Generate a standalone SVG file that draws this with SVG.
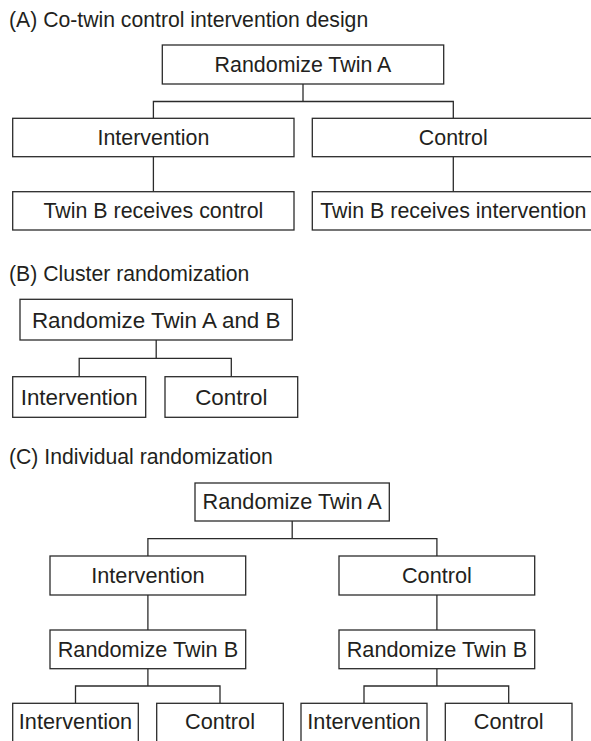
<svg xmlns="http://www.w3.org/2000/svg" width="591" height="741" viewBox="0 0 591 741">
<style>
  .box { fill: #ffffff; stroke: #2b2b2b; stroke-width: 1.3; }
  .conn { fill: none; stroke: #2b2b2b; stroke-width: 1.3; }
  text { font-family: "Liberation Sans", Arial, sans-serif; fill: #231f20; }
  .title { font-size: 21.2px; }
  .la { font-size: 21.4px; text-anchor: middle; }
  .lb { font-size: 22.4px; text-anchor: middle; }
  .lc { font-size: 21.7px; text-anchor: middle; }
</style>
<rect x="0" y="0" width="591" height="741" fill="#ffffff"/>

<!-- Section titles -->
<text class="title" x="9" y="26.5">(A) Co-twin control intervention design</text>
<text class="title" x="9" y="280.5">(B) Cluster randomization</text>
<text class="title" x="9" y="464">(C) Individual randomization</text>

<!-- Connectors -->
<g id="connectors">
  <!-- A -->
  <path class="conn" d="M303 84 V101.5"/>
  <path class="conn" d="M153.4 118.3 V101.5 H453.3 V118.3"/>
  <path class="conn" d="M153.4 156.7 V191.7"/>
  <path class="conn" d="M453.3 156.7 V191.7"/>
  <!-- B -->
  <path class="conn" d="M156.2 340 V358.3"/>
  <path class="conn" d="M79.2 376.7 V358.3 H231.3 V376.7"/>
  <!-- C -->
  <path class="conn" d="M292.2 521 V538.7"/>
  <path class="conn" d="M147.9 556 V538.7 H436.9 V556"/>
  <path class="conn" d="M147.9 595 V630"/>
  <path class="conn" d="M436.9 595 V630"/>
  <path class="conn" d="M147.9 668.7 V686"/>
  <path class="conn" d="M75.5 703.3 V686 H220 V703.3"/>
  <path class="conn" d="M436.9 668.7 V686"/>
  <path class="conn" d="M364 703.3 V686 H508.7 V703.3"/>
</g>

<!-- Section A nodes -->
<g id="a-randomize-a">
  <rect class="box" x="162.3" y="45" width="281.4" height="39"/>
  <text class="la" x="303" y="71.8">Randomize Twin A</text>
</g>
<g id="a-intervention">
  <rect class="box" x="12.7" y="118.3" width="281.3" height="38.4"/>
  <text class="la" x="153.4" y="144.8">Intervention</text>
</g>
<g id="a-control">
  <rect class="box" x="312.3" y="118.3" width="282" height="38.4"/>
  <text class="la" x="453.3" y="144.8">Control</text>
</g>
<g id="a-twinb-control">
  <rect class="box" x="12.7" y="191.7" width="281.3" height="38.3"/>
  <text class="la" x="153.4" y="218.2">Twin B receives control</text>
</g>
<g id="a-twinb-intervention">
  <rect class="box" x="312.3" y="191.7" width="282" height="38.3"/>
  <text class="la" x="453.3" y="218.2">Twin B receives intervention</text>
</g>

<!-- Section B nodes -->
<g id="b-randomize-ab">
  <rect class="box" x="20" y="299.3" width="272.3" height="40.7"/>
  <text class="lb" x="156.2" y="327.5">Randomize Twin A and B</text>
</g>
<g id="b-intervention">
  <rect class="box" x="12.7" y="376.7" width="133" height="40.6"/>
  <text class="lb" x="79.2" y="404.8">Intervention</text>
</g>
<g id="b-control">
  <rect class="box" x="165" y="376.7" width="132.7" height="40.6"/>
  <text class="lb" x="231.3" y="404.8">Control</text>
</g>

<!-- Section C nodes -->
<g id="c-randomize-a">
  <rect class="box" x="195" y="483" width="194.3" height="38"/>
  <text class="lc" x="292.2" y="509.3">Randomize Twin A</text>
</g>
<g id="c-intervention">
  <rect class="box" x="50" y="556" width="195.7" height="39"/>
  <text class="lc" x="147.9" y="582.8">Intervention</text>
</g>
<g id="c-control">
  <rect class="box" x="339" y="556" width="195.7" height="39"/>
  <text class="lc" x="436.9" y="582.8">Control</text>
</g>
<g id="c-randomize-b-left">
  <rect class="box" x="50" y="630" width="195.7" height="38.7"/>
  <text class="lc" x="147.9" y="656.6">Randomize Twin B</text>
</g>
<g id="c-randomize-b-right">
  <rect class="box" x="339" y="630" width="195.7" height="38.7"/>
  <text class="lc" x="436.9" y="656.6">Randomize Twin B</text>
</g>
<g id="c-ll-intervention">
  <rect class="box" x="12.7" y="703.3" width="125.6" height="39"/>
  <text class="lc" x="75.5" y="728.8">Intervention</text>
</g>
<g id="c-lr-control">
  <rect class="box" x="156.7" y="703.3" width="126.6" height="39"/>
  <text class="lc" x="220" y="728.8">Control</text>
</g>
<g id="c-rl-intervention">
  <rect class="box" x="301" y="703.3" width="126" height="39"/>
  <text class="lc" x="364" y="728.8">Intervention</text>
</g>
<g id="c-rr-control">
  <rect class="box" x="445.3" y="703.3" width="126.7" height="39"/>
  <text class="lc" x="508.7" y="728.8">Control</text>
</g>
</svg>
